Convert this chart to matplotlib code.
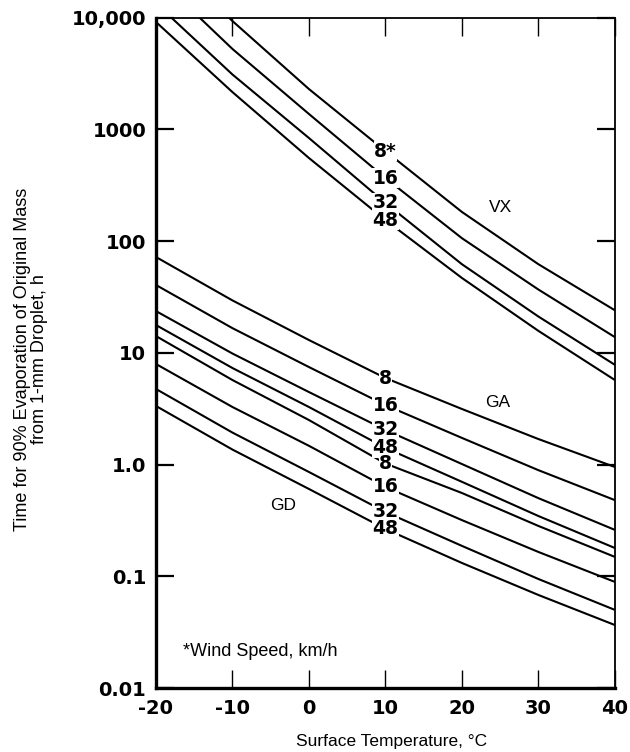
import matplotlib
matplotlib.use('Agg')
import matplotlib.pyplot as plt
from matplotlib.ticker import FixedLocator, NullLocator

# ---- data ----
temps = [-20, -10, 0, 10, 20, 30, 40]

vx_8 = [43000, 9300, 2290, 638, 182, 62, 24]
vx_16 = [23500, 5230, 1370, 366, 106, 36.8, 13.8]
vx_32 = [13400, 3090, 835, 219, 62, 21.1, 7.8]
vx_48 = [9120, 2150, 553, 154, 46.7, 15.7, 5.7]

ga_8 = [71.9, 29.4, 13.0, 5.94, 3.14, 1.69, 0.95]
ga_16 = [40.4, 16.6, 7.45, 3.40, 1.73, 0.89, 0.48]
ga_32 = [23.6, 9.84, 4.45, 2.04, 1.01, 0.50, 0.26]
ga_48 = [17.7, 7.30, 3.27, 1.41, 0.70, 0.346, 0.179]

gd_8 = [14.1, 5.70, 2.50, 1.02, 0.556, 0.282, 0.149]
gd_16 = [7.93, 3.27, 1.47, 0.63, 0.318, 0.165, 0.089]
gd_32 = [4.74, 1.93, 0.857, 0.376, 0.187, 0.0945, 0.050]
gd_48 = [3.34, 1.36, 0.604, 0.265, 0.1315, 0.068, 0.0366]

vx_labels = ['8*', '16', '32', '48']
g_labels = ['8', '16', '32', '48']
label_temp = 10

xticks = [-20, -10, 0, 10, 20, 30, 40]
xtick_labels = ['-20', '-10', '0', '10', '20', '30', '40']
yticks = [0.01, 0.1, 1, 10, 100, 1000, 10000]
ytick_labels = ['0.01', '0.1', '1.0', '10', '100', '1000', '10,000']

agent_names = ['VX', 'GA', 'GD']
agent_pos = [(25, 201), (24.7, 3.62), (-3.4, 0.434)]

# ---- figure ----
plt.rcParams['font.family'] = ['Liberation Sans', 'DejaVu Sans']
fig = plt.figure(figsize=(6.3, 7.52), dpi=100)
ax = fig.add_axes([0.2476, 0.0851, 0.976 - 0.2476, 0.9767 - 0.0851])
ax.set_yscale('log')
ax.set_xlim(-20, 40)
ax.set_ylim(0.01, 10000)

groups = [
    ([vx_8, vx_16, vx_32, vx_48], vx_labels),
    ([ga_8, ga_16, ga_32, ga_48], g_labels),
    ([gd_8, gd_16, gd_32, gd_48], g_labels),
]
idx = temps.index(label_temp)
for series_list, labels in groups:
    for s, lab in zip(series_list, labels):
        ax.plot(temps, s, color='black', lw=1.5, zorder=2, solid_capstyle='butt')
        ax.text(label_temp, s[idx], lab, ha='center', va='center',
                fontsize=13.5, fontweight='bold', family='DejaVu Sans', zorder=3,
                bbox=dict(facecolor='white', edgecolor='none', pad=0.3))

for name, (tx, ty) in zip(agent_names, agent_pos):
    ax.text(tx, ty, name, ha='center', va='center', fontsize=12.5, zorder=3)

ax.text(0.058, 0.054, '*Wind Speed, km/h', transform=ax.transAxes,
        ha='left', va='center', fontsize=13)

ax.xaxis.set_major_locator(FixedLocator(xticks))
ax.set_xticklabels(xtick_labels)
ax.yaxis.set_major_locator(FixedLocator(yticks))
ax.yaxis.set_minor_locator(NullLocator())
ax.set_yticklabels(ytick_labels)
for lbl in ax.get_xticklabels() + ax.get_yticklabels():
    lbl.set_fontweight('bold')
    lbl.set_fontsize(14)
    lbl.set_family('DejaVu Sans')

ax.tick_params(axis='x', which='major', direction='in', length=13, width=1.0,
               top=True, bottom=True, pad=8)
ax.tick_params(axis='y', which='major', direction='in', length=13, width=1.6,
               left=True, right=True, pad=7)

for side in ['left', 'bottom']:
    ax.spines[side].set_linewidth(2.4)
for side in ['top', 'right']:
    ax.spines[side].set_linewidth(1.3)

ax.set_xlabel('Surface Temperature, °C', fontsize=12.5)
ax.xaxis.set_label_coords(0.513, -0.068)
ax.set_ylabel('Time for 90% Evaporation of Original Mass\nfrom 1-mm Droplet, h',
              fontsize=13, linespacing=1.0)
ax.yaxis.set_label_coords(-0.235, 0.49)

fig.savefig('out.png', dpi=100)
